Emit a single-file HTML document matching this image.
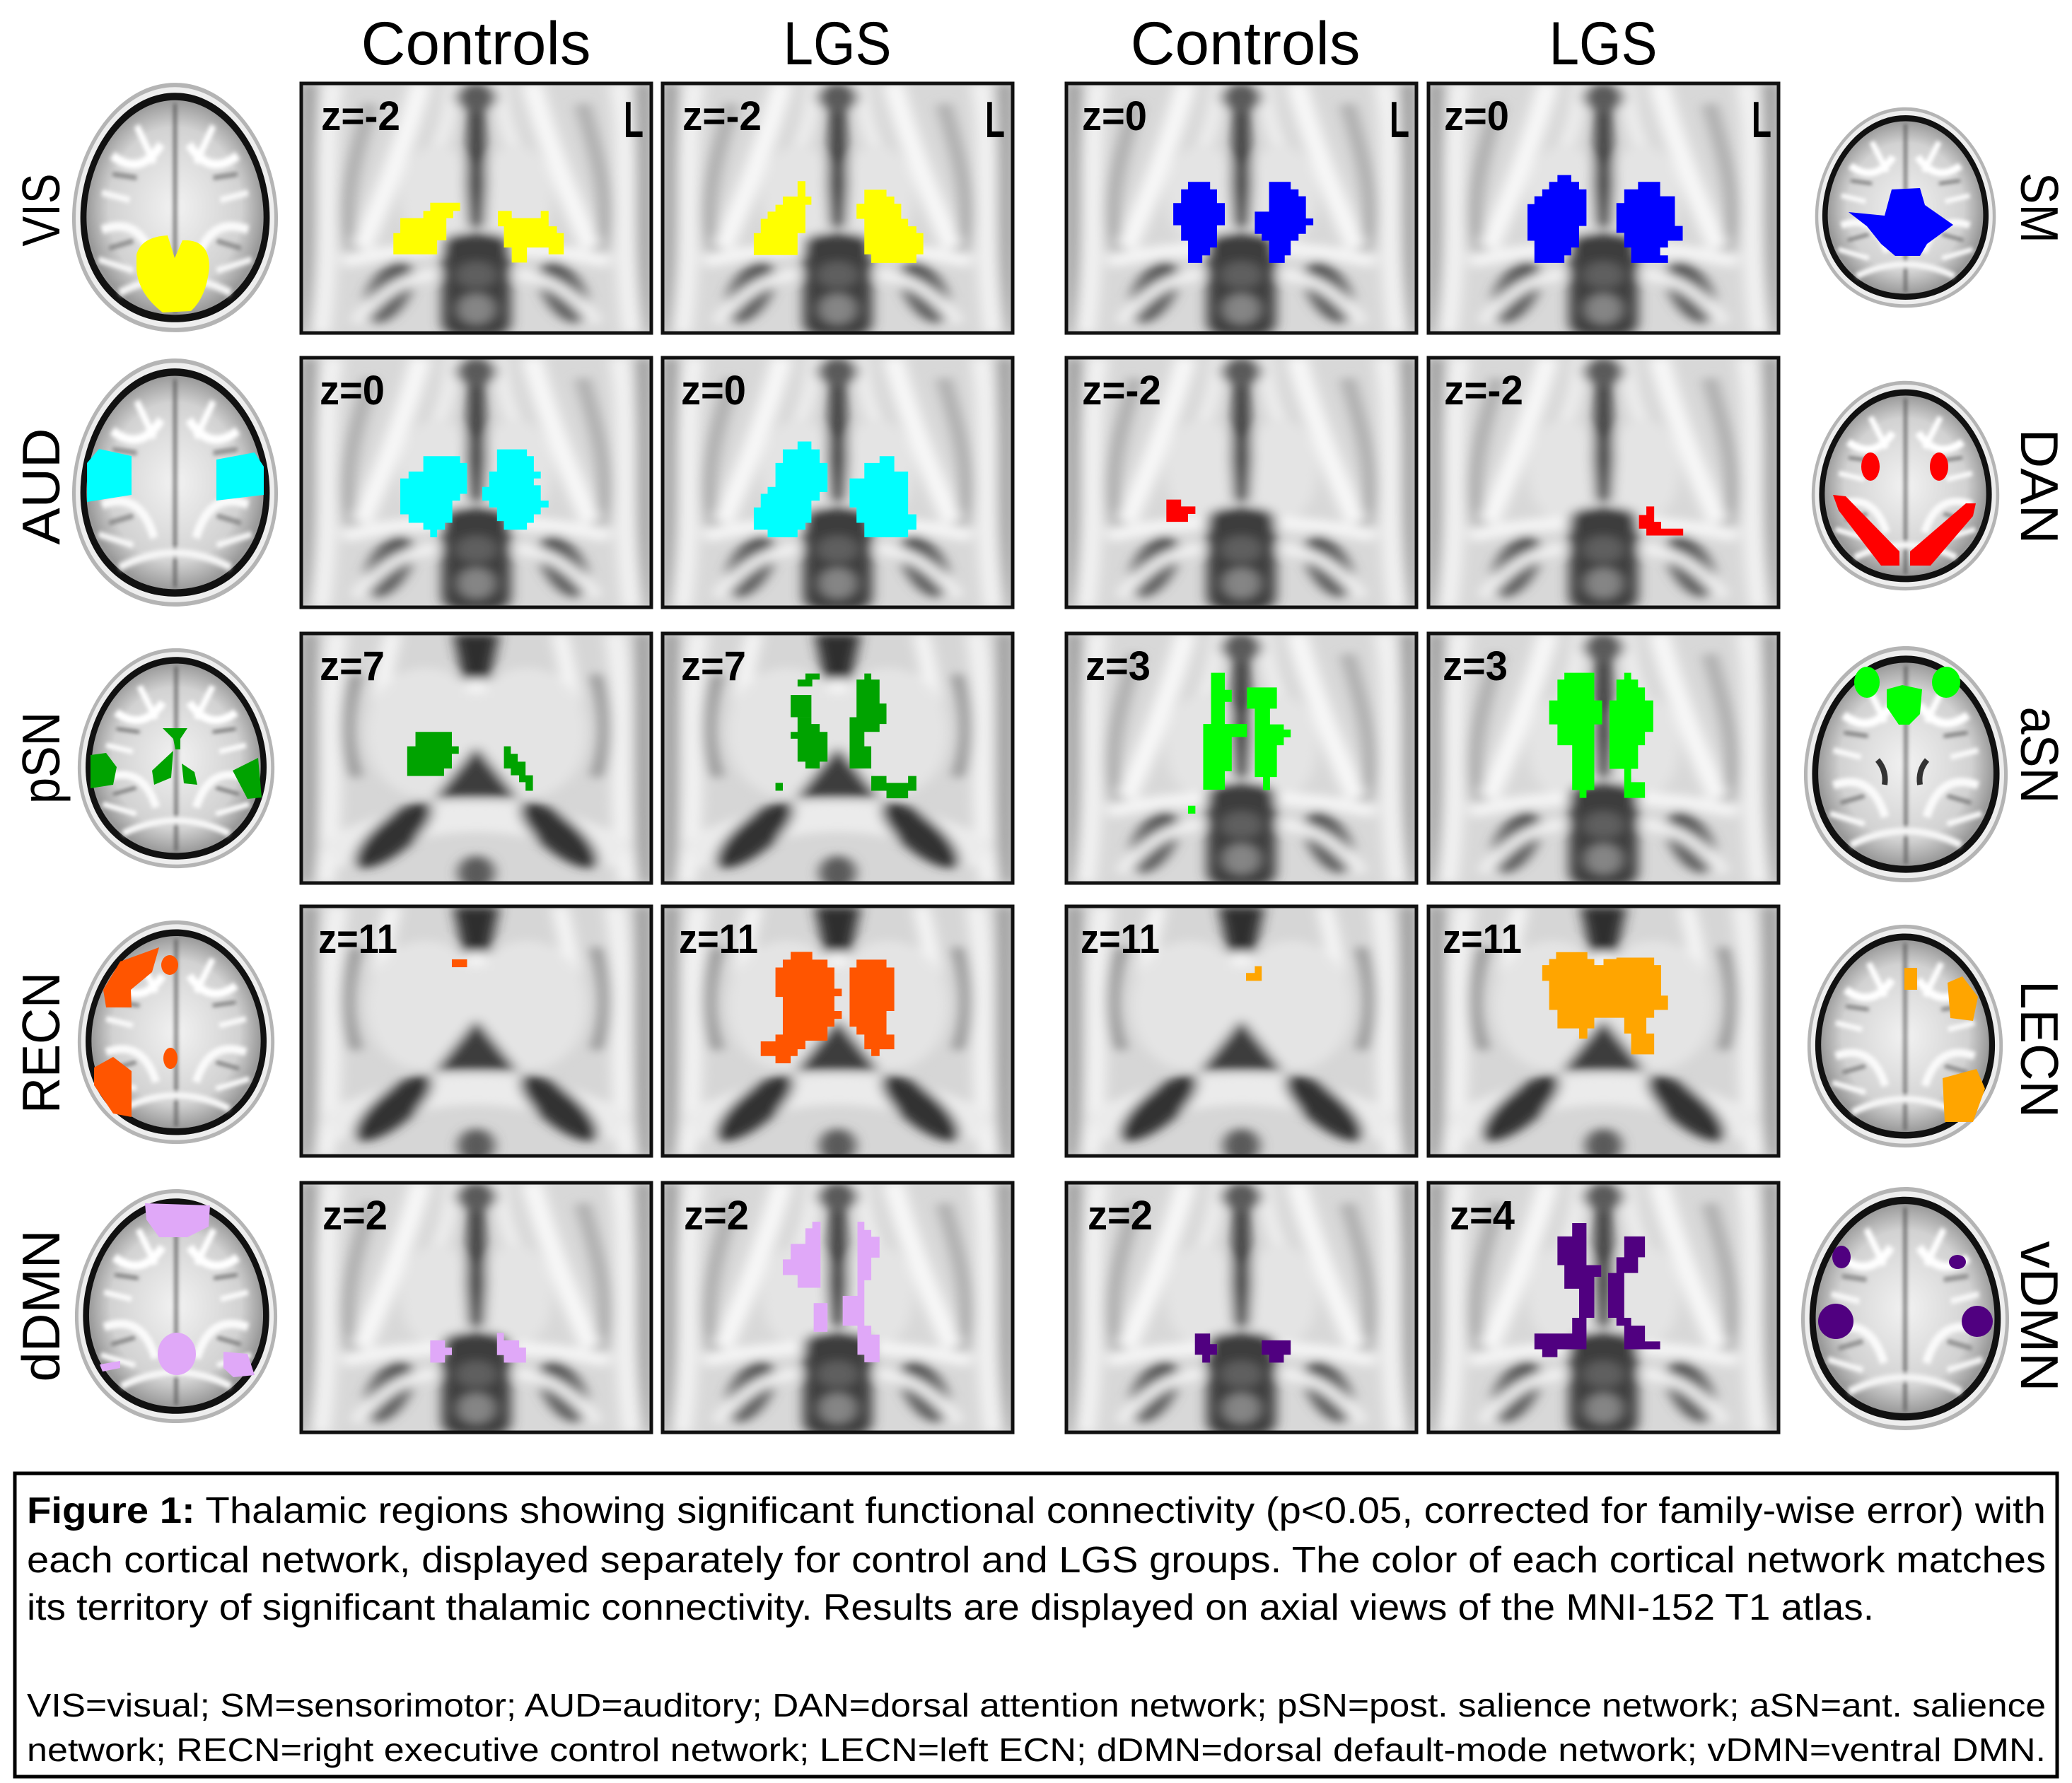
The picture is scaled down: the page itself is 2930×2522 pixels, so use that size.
<!DOCTYPE html>
<html><head><meta charset="utf-8"><style>
html,body{margin:0;padding:0;background:#fff;}
svg{display:block;}
text{font-family:"Liberation Sans",sans-serif;}
</style></head><body>
<svg width="2930" height="2522" viewBox="0 0 2930 2522" xmlns="http://www.w3.org/2000/svg">
<defs>
<filter id="b" x="-10%" y="-10%" width="120%" height="120%"><feGaussianBlur stdDeviation="14"/></filter>
<filter id="b2" x="-10%" y="-10%" width="120%" height="120%"><feGaussianBlur stdDeviation="3"/></filter>
<g id="low">
<rect width="760" height="730" fill="#d8d8d8"/>
<g filter="url(#b)">
<rect x="0" y="0" width="35" height="730" fill="#a0a0a0"/><rect x="725" y="0" width="35" height="730" fill="#a0a0a0"/>
<path d="M70,0 C40,200 70,420 40,730" stroke="#f2f2f2" stroke-width="45" fill="none"/>
<path d="M690,0 C720,200 690,420 720,730" stroke="#f2f2f2" stroke-width="45" fill="none"/>
<path d="M150,60 C110,250 80,380 120,520" stroke="#aaaaaa" stroke-width="30" fill="none"/>
<path d="M610,60 C650,250 680,380 640,520" stroke="#aaaaaa" stroke-width="30" fill="none"/>
<path d="M260,0 C230,150 190,300 130,480" stroke="#f8f8f8" stroke-width="45" fill="none"/>
<path d="M500,0 C530,150 570,300 630,480" stroke="#f8f8f8" stroke-width="45" fill="none"/>
<path d="M330,0 C320,150 280,260 230,330" stroke="#efefef" stroke-width="30" fill="none"/>
<path d="M430,0 C440,150 480,260 530,330" stroke="#efefef" stroke-width="30" fill="none"/>
<ellipse cx="295" cy="330" rx="80" ry="150" fill="#e4e4e4"/><ellipse cx="465" cy="330" rx="80" ry="150" fill="#e4e4e4"/>
<path d="M90,520 Q380,440 670,520" stroke="#f4f4f4" stroke-width="40" fill="none"/>
<polygon points="362,40 398,40 402,300 396,420 364,420 358,300" fill="#3a3a3a"/>
<ellipse cx="380" cy="40" rx="45" ry="40" fill="#5a5a5a"/>
<rect x="305" y="440" width="150" height="300" rx="40" fill="#3c3c3c"/>
<ellipse cx="380" cy="560" rx="45" ry="40" fill="#5e5e5e"/>
<ellipse cx="380" cy="660" rx="40" ry="45" fill="#858585"/>
<ellipse cx="190" cy="610" rx="45" ry="95" fill="#5a5a5a" transform="rotate(20 190 610)"/>
<ellipse cx="570" cy="610" rx="45" ry="95" fill="#5a5a5a" transform="rotate(-20 570 610)"/>
<path d="M120,700 Q200,560 300,560" stroke="#f2f2f2" stroke-width="30" fill="none"/>
<path d="M640,700 Q560,560 460,560" stroke="#f2f2f2" stroke-width="30" fill="none"/>
</g></g>
<g id="high">
<rect width="760" height="730" fill="#d6d6d6"/>
<g filter="url(#b)">
<rect x="0" y="0" width="35" height="730" fill="#a0a0a0"/><rect x="725" y="0" width="35" height="730" fill="#a0a0a0"/>
<path d="M80,0 C50,200 80,420 50,730" stroke="#f2f2f2" stroke-width="45" fill="none"/>
<path d="M680,0 C710,200 680,420 710,730" stroke="#f2f2f2" stroke-width="45" fill="none"/>
<path d="M120,120 C90,250 100,350 120,420" stroke="#8e8e8e" stroke-width="25" fill="none"/>
<path d="M640,120 C670,250 660,350 640,420" stroke="#8e8e8e" stroke-width="25" fill="none"/>
<path d="M200,0 C180,100 170,200 160,300" stroke="#f6f6f6" stroke-width="35" fill="none"/>
<path d="M560,0 C580,100 590,200 600,300" stroke="#f6f6f6" stroke-width="35" fill="none"/>
<ellipse cx="270" cy="290" rx="130" ry="190" fill="#e4e4e4"/><ellipse cx="490" cy="290" rx="130" ry="190" fill="#e4e4e4"/>
<path d="M330,0 L350,130 L380,150 L410,130 L430,0 Z" fill="#2e2e2e"/>
<ellipse cx="380" cy="155" rx="22" ry="25" fill="#f4f4f4"/>
<polygon points="380,330 290,480 470,480" fill="#3e3e3e"/>
<path d="M60,650 Q380,420 700,650" stroke="#ebebeb" stroke-width="90" fill="none"/>
<ellipse cx="200" cy="590" rx="45" ry="120" fill="#333" transform="rotate(40 200 590)"/>
<ellipse cx="560" cy="590" rx="45" ry="120" fill="#333" transform="rotate(-40 560 590)"/>
<ellipse cx="380" cy="700" rx="40" ry="50" fill="#5a5a5a"/>
</g></g>
<radialGradient id="brg" cx="50%" cy="50%" r="50%"><stop offset="0" stop-color="#f2f2f2"/><stop offset="0.75" stop-color="#d2d2d2"/><stop offset="1" stop-color="#9a9a9a"/></radialGradient>
<path id="egg" d="M150,2 C235,2 298,95 298,185 C298,275 235,338 150,338 C65,338 2,275 2,185 C2,95 65,2 150,2 Z"/>
<symbol id="brain" viewBox="0 0 300 340" preserveAspectRatio="none">
<use href="#egg" fill="#b4b4b4"/>
<use href="#egg" fill="#eeeeee" transform="translate(150 170) scale(0.965) translate(-150 -170)"/>
<use href="#egg" fill="#111" transform="translate(150 170) scale(0.92) translate(-150 -170)"/>
<use href="#egg" fill="url(#brg)" transform="translate(150 170) scale(0.86) translate(-150 -170)"/>
<g filter="url(#b2)" fill="none">
<path d="M150,30 L150,312" stroke="#555" stroke-width="4"/>
<path d="M60,100 Q100,130 130,85" stroke="#ffffff" stroke-width="12"/>
<path d="M240,100 Q200,130 170,85" stroke="#ffffff" stroke-width="12"/>
<path d="M95,60 L120,110 M205,60 L180,110" stroke="#ffffff" stroke-width="9"/>
<path d="M45,200 Q100,180 120,245" stroke="#fafafa" stroke-width="12"/>
<path d="M255,200 Q200,180 180,245" stroke="#fafafa" stroke-width="12"/>
<path d="M40,240 L90,255 M260,240 L210,255 M45,150 L85,160 M255,150 L215,160" stroke="#fafafa" stroke-width="8"/>
<path d="M70,285 Q150,245 230,285" stroke="#f6f6f6" stroke-width="10"/>
<path d="M60,125 L95,130 M240,125 L205,130 M55,225 L90,215 M245,225 L210,215" stroke="#777" stroke-width="5"/>
</g>
</symbol>
</defs>
<rect width="2930" height="2522" fill="#fff"/>

<!-- headers -->
<text x="673" y="91" font-size="86" text-anchor="middle" textLength="325" lengthAdjust="spacingAndGlyphs">Controls</text>
<text x="1184" y="91" font-size="86" text-anchor="middle" textLength="153" lengthAdjust="spacingAndGlyphs">LGS</text>
<text x="1761" y="91" font-size="86" text-anchor="middle" textLength="325" lengthAdjust="spacingAndGlyphs">Controls</text>
<text x="2267" y="91" font-size="86" text-anchor="middle" textLength="153" lengthAdjust="spacingAndGlyphs">LGS</text>

<!-- ROW 1 -->
<svg x="426" y="118" width="495" height="353" viewBox="0 0 760 730" preserveAspectRatio="none"><use href="#low"/>
<g fill="#ffff00"><polygon points="280,349 345,349 345,373 330,373 330,394 315,394 315,459 295,459 295,500 200,500 200,438 215,438 215,394 265,394 265,373 280,373"/>
<polygon points="427,373 457,373 457,394 520,394 520,373 537,373 537,418 555,418 555,438 570,438 570,500 537,500 537,480 490,480 490,524 457,524 457,480 440,480 440,418 427,418"/></g></svg>
<svg x="937" y="118" width="495" height="353" viewBox="0 0 760 730" preserveAspectRatio="none"><use href="#low"/>
<g fill="#ffff00"><polygon points="293,286 310,286 310,331 323,331 323,355 310,355 310,438 293,438 293,502 198,502 198,438 213,438 213,396 228,396 228,375 245,375 245,355 261,355 261,331 293,331"/>
<polygon points="438,311 486,311 486,331 503,331 503,352 518,352 518,396 533,396 533,418 551,418 551,438 566,438 566,500 551,500 551,525 453,525 453,500 438,500 438,396 421,396 421,352 438,352"/></g></svg>
<svg x="1508" y="118" width="495" height="353" viewBox="0 0 760 730" preserveAspectRatio="none"><use href="#low"/>
<g fill="#0000ff"><polygon points="264,288 312,288 312,310 327,310 327,350 344,350 344,415 327,415 327,480 312,480 312,503 295,503 295,525 264,525 264,460 249,460 249,415 232,415 232,350 249,350 249,310 264,310"/>
<polygon points="440,288 487,288 487,310 504,310 504,330 520,330 520,395 536,395 536,415 520,415 520,440 504,440 504,460 487,460 487,503 474,503 474,525 440,525 440,460 424,460 424,440 409,440 409,375 440,375"/></g></svg>
<svg x="2020" y="118" width="495" height="353" viewBox="0 0 760 730" preserveAspectRatio="none"><use href="#low"/>
<g fill="#0000ff"><polygon points="280,268 310,268 310,288 327,288 327,310 343,310 343,417 327,417 327,480 310,480 310,503 295,503 295,525 230,525 230,460 215,460 215,353 230,353 230,330 247,330 247,310 262,310 262,288 280,288"/>
<polygon points="455,288 503,288 503,330 535,330 535,417 552,417 552,460 520,460 520,480 503,480 503,503 520,503 520,525 440,525 440,480 425,480 425,437 408,437 408,350 425,350 425,310 455,310"/></g></svg>

<!-- ROW 2 -->
<svg x="426" y="506" width="495" height="353" viewBox="0 0 760 730" preserveAspectRatio="none"><use href="#low"/>
<g fill="#00ffff"><polygon points="265,288 345,288 345,308 360,308 360,398 345,398 345,418 328,418 328,483 312,483 312,503 295,503 295,525 280,525 280,503 265,503 265,483 233,483 233,458 215,458 215,353 233,353 233,333 265,333"/>
<polygon points="425,268 490,268 490,288 505,288 505,333 520,333 520,353 505,353 505,373 520,373 520,418 537,418 537,438 520,438 520,458 505,458 505,483 490,483 490,503 440,503 440,478 425,478 425,438 408,438 408,418 393,418 393,378 408,378 408,333 425,333"/></g></svg>
<svg x="937" y="506" width="495" height="353" viewBox="0 0 760 730" preserveAspectRatio="none"><use href="#low"/>
<g fill="#00ffff"><polygon points="293,245 323,245 323,268 341,268 341,308 358,308 358,393 341,393 341,418 323,418 323,483 310,483 310,503 293,503 293,525 228,525 228,503 198,503 198,438 213,438 213,398 228,398 228,378 245,378 245,308 261,308 261,268 293,268"/>
<polygon points="471,288 503,288 503,333 533,333 533,458 551,458 551,503 533,503 533,525 438,525 438,483 421,483 421,438 406,438 406,353 438,353 438,308 471,308"/></g></svg>
<svg x="1508" y="506" width="495" height="353" viewBox="0 0 760 730" preserveAspectRatio="none"><use href="#low"/>
<polygon fill="#ff0000" points="217,415 249,415 249,435 280,435 280,457 264,457 264,480 217,480"/></svg>
<svg x="2020" y="506" width="495" height="353" viewBox="0 0 760 730" preserveAspectRatio="none"><use href="#low"/>
<polygon fill="#ff0000" points="473,435 490,435 490,480 505,480 505,500 553,500 553,520 473,520 473,500 457,500 457,460 473,460"/></svg>

<!-- ROW 3 -->
<svg x="426" y="896" width="495" height="353" viewBox="0 0 760 730" preserveAspectRatio="none"><use href="#high"/>
<g fill="#00a300"><polygon points="248,288 327,288 327,330 342,330 342,352 327,352 327,395 310,395 310,417 230,417 230,330 248,330"/>
<polygon points="440,330 455,330 455,352 470,352 470,375 487,375 487,415 503,415 503,460 487,460 487,435 473,435 473,415 455,415 455,395 440,395"/></g></svg>
<svg x="937" y="896" width="495" height="353" viewBox="0 0 760 730" preserveAspectRatio="none"><use href="#high"/>
<g fill="#00a300"><polygon points="310,117 341,117 341,135 325,135 325,155 293,155 293,135 310,135"/>
<rect x="278" y="180" width="45" height="65"/>
<polygon points="293,245 323,245 323,265 341,265 341,288 358,288 358,375 341,375 341,395 310,395 310,375 293,375 293,308 278,308 278,288 293,288"/>
<polygon points="438,117 453,117 453,135 471,135 471,205 486,205 486,265 471,265 471,288 438,288 438,330 453,330 453,395 406,395 406,245 421,245 421,135 438,135"/>
<polygon points="453,417 486,417 486,437 533,437 533,417 551,417 551,460 533,460 533,482 486,482 486,460 453,460"/>
<rect x="245" y="437" width="16" height="23"/></g></svg>
<svg x="1508" y="896" width="495" height="353" viewBox="0 0 760 730" preserveAspectRatio="none"><use href="#low"/>
<g fill="#00ff00"><polygon points="314,115 344,115 344,165 359,165 359,200 344,200 344,265 392,265 392,303 359,303 359,403 344,403 344,457 297,457 297,265 314,265"/>
<polygon points="392,158 457,158 457,220 442,220 442,266 472,266 472,281 487,281 487,304 472,304 472,327 457,327 457,420 442,420 442,458 427,458 427,420 409,420 409,220 392,220"/>
<rect x="264" y="504" width="16" height="23"/></g></svg>
<svg x="2020" y="896" width="495" height="353" viewBox="0 0 760 730" preserveAspectRatio="none"><use href="#low"/>
<g fill="#00ff00"><polygon points="312,115 360,115 360,196 377,196 377,266 360,266 360,458 343,458 343,481 328,481 328,458 312,458 312,327 280,327 280,266 262,266 262,196 280,196 280,135 295,135 295,115"/>
<polygon points="425,115 440,115 440,135 455,135 455,158 470,158 470,196 488,196 488,288 470,288 470,327 455,327 455,396 440,396 440,435 470,435 470,481 425,481 425,396 393,396 393,196 408,196 408,135 425,135"/></g></svg>

<!-- ROW 4 -->
<svg x="426" y="1282" width="495" height="353" viewBox="0 0 760 730" preserveAspectRatio="none"><use href="#high"/>
<rect fill="#ff5500" x="327" y="155" width="33" height="23"/></svg>
<svg x="937" y="1282" width="495" height="353" viewBox="0 0 760 730" preserveAspectRatio="none"><use href="#high"/>
<g fill="#ff5500"><polygon points="278,133 325,133 325,156 358,156 358,179 373,179 373,241 389,241 389,263 373,263 373,306 389,306 389,329 373,329 373,352 358,352 358,393 310,393 310,418 293,418 293,438 278,438 278,459 245,459 245,438 213,438 213,395 245,395 245,375 261,375 261,265 245,265 245,179 261,179 261,156 278,156"/>
<polygon points="421,156 486,156 486,179 503,179 503,306 486,306 486,375 503,375 503,418 471,418 471,438 453,438 453,418 438,418 438,375 421,375 421,352 406,352 406,179 421,179"/></g></svg>
<svg x="1508" y="1282" width="495" height="353" viewBox="0 0 760 730" preserveAspectRatio="none"><use href="#high"/>
<polygon fill="#ffa500" points="409,175 424,175 424,218 390,218 390,195 409,195"/></svg>
<svg x="2020" y="1282" width="495" height="353" viewBox="0 0 760 730" preserveAspectRatio="none"><use href="#high"/>
<polygon fill="#ffa500" points="277,134 345,134 345,154 360,154 360,172 380,172 380,154 408,154 408,150 490,150 490,172 505,172 505,261 520,261 520,303 490,303 490,326 473,326 473,372 490,372 490,433 440,433 440,372 425,372 425,326 360,326 360,357 345,357 345,387 327,387 327,357 280,357 280,303 262,303 262,218 247,218 247,172 262,172 262,154 277,154"/></svg>

<!-- ROW 5 -->
<svg x="426" y="1673" width="495" height="353" viewBox="0 0 760 730" preserveAspectRatio="none"><use href="#low"/>
<g fill="#e0a8f8"><polygon points="280,461 312,461 312,482 327,482 327,504 312,504 312,526 280,526"/>
<polygon points="425,439 440,439 440,461 473,461 473,482 488,482 488,526 440,526 440,504 425,504"/></g></svg>
<svg x="937" y="1673" width="495" height="353" viewBox="0 0 760 730" preserveAspectRatio="none"><use href="#low"/>
<g fill="#e0a8f8"><polygon points="310,133 325,133 325,114 343,114 343,307 293,307 293,270 261,270 261,224 278,224 278,179 310,179"/>
<rect x="328" y="352" width="30" height="84"/>
<polygon points="423,114 438,114 438,138 453,138 453,158 471,158 471,219 453,219 453,285 438,285 438,418 453,418 453,444 471,444 471,525 438,525 438,503 423,503 423,418 391,418 391,331 423,331"/></g></svg>
<svg x="1508" y="1673" width="495" height="353" viewBox="0 0 760 730" preserveAspectRatio="none"><use href="#low"/>
<g fill="#500080"><polygon points="279,441 312,441 312,472 327,472 327,503 312,503 312,526 295,526 295,503 279,503"/>
<polygon points="424,461 487,461 487,503 472,503 472,526 440,526 440,503 424,503"/></g></svg>
<svg x="2020" y="1673" width="495" height="353" viewBox="0 0 760 730" preserveAspectRatio="none"><use href="#low"/>
<g fill="#500080"><polygon points="312,118 343,118 343,241 375,241 375,275 360,275 360,395 343,395 343,487 280,487 280,510 247,510 247,487 230,487 230,441 312,441 312,395 327,395 327,310 295,310 295,241 280,241 280,157 312,157"/>
<polygon points="425,157 470,157 470,218 455,218 455,264 425,264 425,395 440,395 440,418 470,418 470,464 503,464 503,487 425,487 425,418 408,418 408,395 390,395 390,264 408,264 408,218 425,218"/></g></svg>

<!-- panel borders and labels -->
<g fill="none" stroke="#111" stroke-width="5">
<rect x="426" y="118" width="495" height="353"/><rect x="937" y="118" width="495" height="353"/><rect x="1508" y="118" width="495" height="353"/><rect x="2020" y="118" width="495" height="353"/>
<rect x="426" y="506" width="495" height="353"/><rect x="937" y="506" width="495" height="353"/><rect x="1508" y="506" width="495" height="353"/><rect x="2020" y="506" width="495" height="353"/>
<rect x="426" y="896" width="495" height="353"/><rect x="937" y="896" width="495" height="353"/><rect x="1508" y="896" width="495" height="353"/><rect x="2020" y="896" width="495" height="353"/>
<rect x="426" y="1282" width="495" height="353"/><rect x="937" y="1282" width="495" height="353"/><rect x="1508" y="1282" width="495" height="353"/><rect x="2020" y="1282" width="495" height="353"/>
<rect x="426" y="1673" width="495" height="353"/><rect x="937" y="1673" width="495" height="353"/><rect x="1508" y="1673" width="495" height="353"/><rect x="2020" y="1673" width="495" height="353"/>
</g>
<g font-size="58" font-weight="bold" fill="#000">
<text x="454" y="184" textLength="112" lengthAdjust="spacingAndGlyphs">z=-2</text>
<text x="965" y="184" textLength="112" lengthAdjust="spacingAndGlyphs">z=-2</text>
<text x="1530" y="184" textLength="92" lengthAdjust="spacingAndGlyphs">z=0</text>
<text x="2042" y="184" textLength="92" lengthAdjust="spacingAndGlyphs">z=0</text>
<text x="452" y="572" textLength="92" lengthAdjust="spacingAndGlyphs">z=0</text>
<text x="963" y="572" textLength="92" lengthAdjust="spacingAndGlyphs">z=0</text>
<text x="1530" y="572" textLength="112" lengthAdjust="spacingAndGlyphs">z=-2</text>
<text x="2042" y="572" textLength="112" lengthAdjust="spacingAndGlyphs">z=-2</text>
<text x="452" y="962" textLength="92" lengthAdjust="spacingAndGlyphs">z=7</text>
<text x="963" y="962" textLength="92" lengthAdjust="spacingAndGlyphs">z=7</text>
<text x="1535" y="962" textLength="92" lengthAdjust="spacingAndGlyphs">z=3</text>
<text x="2040" y="962" textLength="92" lengthAdjust="spacingAndGlyphs">z=3</text>
<text x="450" y="1348" textLength="112" lengthAdjust="spacingAndGlyphs">z=11</text>
<text x="960" y="1348" textLength="112" lengthAdjust="spacingAndGlyphs">z=11</text>
<text x="1528" y="1348" textLength="112" lengthAdjust="spacingAndGlyphs">z=11</text>
<text x="2040" y="1348" textLength="112" lengthAdjust="spacingAndGlyphs">z=11</text>
<text x="456" y="1739" textLength="92" lengthAdjust="spacingAndGlyphs">z=2</text>
<text x="967" y="1739" textLength="92" lengthAdjust="spacingAndGlyphs">z=2</text>
<text x="1538" y="1739" textLength="92" lengthAdjust="spacingAndGlyphs">z=2</text>
<text x="2050" y="1739" textLength="92" lengthAdjust="spacingAndGlyphs">z=4</text>
</g>
<g font-size="72" font-weight="bold" fill="#000">
<text x="882" y="194" textLength="28" lengthAdjust="spacingAndGlyphs">L</text>
<text x="1393" y="194" textLength="28" lengthAdjust="spacingAndGlyphs">L</text>
<text x="1965" y="194" textLength="28" lengthAdjust="spacingAndGlyphs">L</text>
<text x="2477" y="194" textLength="28" lengthAdjust="spacingAndGlyphs">L</text>
</g>

<!-- left brains -->
<use href="#brain" x="100" y="115" width="295" height="357"/>
<use href="#brain" x="100" y="505" width="295" height="355"/>
<use href="#brain" x="108" y="915" width="282" height="315"/>
<use href="#brain" x="108" y="1300" width="282" height="320"/>
<use href="#brain" x="104" y="1680" width="290" height="335"/>
<g fill="#ffff00"><path d="M193,360 Q200,335 237,333 L247,365 L258,340 Q296,338 296,378 Q292,420 270,440 L230,442 Q195,415 193,380 Z"/></g>
<g fill="#00ffff"><polygon points="123,655 140,635 186,645 186,700 123,710"/><polygon points="306,650 360,640 373,660 373,700 306,708"/></g>
<g fill="#00a300"><polygon points="128,1068 150,1065 165,1085 160,1110 128,1115"/><polygon points="329,1090 365,1072 370,1128 350,1130"/>
<polygon points="230,1030 265,1030 255,1045 255,1060 248,1060 245,1045"/><polygon points="245,1062 215,1090 218,1110 242,1100"/><polygon points="257,1080 275,1092 279,1110 260,1108"/></g>
<g fill="#ff5500"><polygon points="146,1400 170,1360 225,1340 215,1375 185,1400 186,1425 150,1425"/><ellipse cx="240" cy="1365" rx="12" ry="14"/>
<polygon points="133,1510 160,1495 186,1515 186,1580 160,1575 133,1535"/><ellipse cx="241" cy="1497" rx="10" ry="15"/></g>
<g fill="#e0a8f8"><polygon points="205,1702 297,1705 295,1735 265,1750 225,1750 207,1725"/><ellipse cx="250" cy="1915" rx="27" ry="30"/><polygon points="316,1912 350,1915 360,1945 330,1948 316,1935"/><polygon points="141,1930 170,1925 170,1935 145,1940"/></g>

<!-- right brains -->
<use href="#brain" x="2565" y="150" width="259" height="287"/>
<use href="#brain" x="2560" y="537" width="269" height="300"/>
<use href="#brain" x="2549" y="912" width="292" height="338"/>
<use href="#brain" x="2554" y="1306" width="280" height="319"/>
<use href="#brain" x="2545" y="1677" width="298" height="348"/>
<polygon fill="#0000ff" points="2614,300 2665,305 2675,268 2715,266 2722,290 2762,318 2725,345 2715,362 2680,362 2660,345 2640,320"/>
<g fill="#ff0000"><ellipse cx="2645" cy="660" rx="13" ry="20"/><ellipse cx="2742" cy="660" rx="13" ry="20"/>
<polygon points="2592,700 2610,702 2686,780 2686,800 2660,800 2600,722"/><polygon points="2794,712 2780,712 2701,780 2701,800 2730,800 2790,730"/></g>
<g fill="#00ff00"><ellipse cx="2640" cy="965" rx="18" ry="22"/><polygon points="2668,975 2690,969 2718,975 2715,1010 2700,1025 2685,1025 2668,1000"/><ellipse cx="2752" cy="965" rx="20" ry="22"/></g>
<g><path d="M2655,1075 Q2668,1090 2665,1110" stroke="#333" stroke-width="8" fill="none"/><path d="M2725,1075 Q2712,1090 2715,1110" stroke="#333" stroke-width="8" fill="none"/></g>
<g fill="#ffa500"><rect x="2693" y="1369" width="18" height="31"/><polygon points="2754,1390 2775,1381 2797,1410 2790,1444 2758,1440"/><polygon points="2747,1525 2795,1512 2807,1540 2790,1587 2750,1587"/></g>
<g fill="#500080"><ellipse cx="2604" cy="1778" rx="13" ry="16"/><ellipse cx="2768" cy="1785" rx="12" ry="10"/><ellipse cx="2596" cy="1869" rx="25" ry="25"/><ellipse cx="2796" cy="1869" rx="22" ry="22"/></g>

<!-- row labels -->
<g font-size="75" fill="#000">
<text transform="translate(84,297) rotate(-90)" text-anchor="middle" textLength="103" lengthAdjust="spacingAndGlyphs">VIS</text>
<text transform="translate(84,688) rotate(-90)" text-anchor="middle" textLength="165" lengthAdjust="spacingAndGlyphs">AUD</text>
<text transform="translate(84,1072) rotate(-90)" text-anchor="middle" textLength="130" lengthAdjust="spacingAndGlyphs">pSN</text>
<text transform="translate(84,1475) rotate(-90)" text-anchor="middle" textLength="200" lengthAdjust="spacingAndGlyphs">RECN</text>
<text transform="translate(84,1847) rotate(-90)" text-anchor="middle" textLength="215" lengthAdjust="spacingAndGlyphs">dDMN</text>
<text transform="translate(2858,294) rotate(90)" text-anchor="middle" textLength="100" lengthAdjust="spacingAndGlyphs">SM</text>
<text transform="translate(2858,688) rotate(90)" text-anchor="middle" textLength="163" lengthAdjust="spacingAndGlyphs">DAN</text>
<text transform="translate(2858,1068) rotate(90)" text-anchor="middle" textLength="137" lengthAdjust="spacingAndGlyphs">aSN</text>
<text transform="translate(2858,1484) rotate(90)" text-anchor="middle" textLength="194" lengthAdjust="spacingAndGlyphs">LECN</text>
<text transform="translate(2858,1862) rotate(90)" text-anchor="middle" textLength="213" lengthAdjust="spacingAndGlyphs">vDMN</text>
</g>

<!-- caption -->
<rect x="21" y="2084" width="2888" height="429" fill="none" stroke="#000" stroke-width="5"/>
<g font-size="52" fill="#000">
<text x="38" y="2154" textLength="2855" lengthAdjust="spacingAndGlyphs"><tspan font-weight="bold">Figure 1:</tspan> Thalamic regions showing significant functional connectivity (p&lt;0.05, corrected for family-wise error) with</text>
<text x="38" y="2224" textLength="2855" lengthAdjust="spacingAndGlyphs">each cortical network, displayed separately for control and LGS groups. The color of each cortical network matches</text>
<text x="38" y="2291" textLength="2612" lengthAdjust="spacingAndGlyphs">its territory of significant thalamic connectivity. Results are displayed on axial views of the MNI-152 T1 atlas.</text>
</g>
<g font-size="46" fill="#000">
<text x="38" y="2428" textLength="2855" lengthAdjust="spacingAndGlyphs">VIS=visual; SM=sensorimotor; AUD=auditory; DAN=dorsal attention network; pSN=post. salience network; aSN=ant. salience</text>
<text x="38" y="2491" textLength="2855" lengthAdjust="spacingAndGlyphs">network; RECN=right executive control network; LECN=left ECN; dDMN=dorsal default-mode network; vDMN=ventral DMN.</text>
</g>
</svg>
</body></html>
